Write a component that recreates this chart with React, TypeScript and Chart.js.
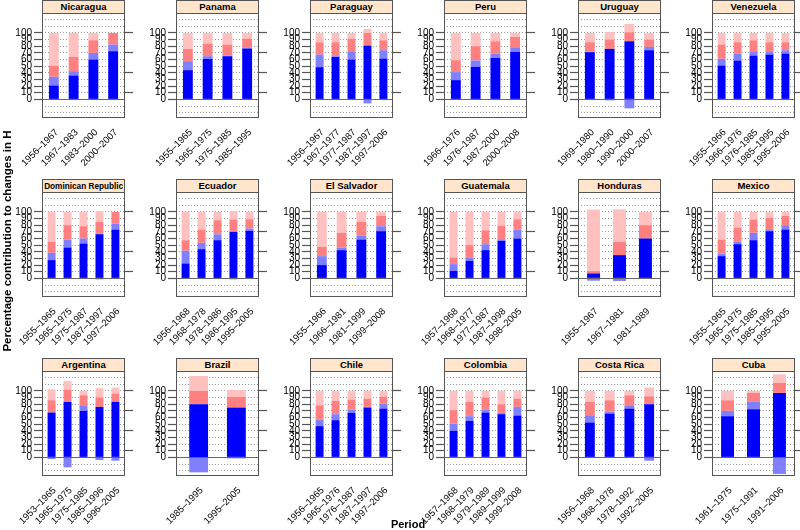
import React, { useEffect, useRef } from 'react';
import { Chart, registerables } from 'chart.js';

Chart.register(...registerables);

const FONT = "'Liberation Sans', Arial, Helvetica, sans-serif";

const countries = [
  'Nicaragua', 'Panama', 'Paraguay', 'Peru', 'Uruguay', 'Venezuela',
  'Dominican Republic', 'Ecuador', 'El Salvador', 'Guatemala', 'Honduras', 'Mexico',
  'Argentina', 'Brazil', 'Chile', 'Colombia', 'Costa Rica', 'Cuba',
];

const periods: string[][] = [
  ['1956–1967', '1967–1983', '1983–2000', '2000–2007'],
  ['1955–1965', '1965–1975', '1975–1985', '1985–1995'],
  ['1956–1967', '1967–1977', '1977–1987', '1987–1997', '1997–2006'],
  ['1966–1976', '1976–1987', '1987–2000', '2000–2008'],
  ['1969–1980', '1980–1990', '1990–2000', '2000–2007'],
  ['1955–1966', '1966–1976', '1976–1985', '1985–1995', '1995–2006'],
  ['1955–1965', '1965–1975', '1975–1987', '1987–1997', '1997–2006'],
  ['1956–1968', '1968–1978', '1978–1986', '1986–1995', '1995–2005'],
  ['1955–1966', '1966–1981', '1981–1999', '1999–2008'],
  ['1957–1968', '1968–1977', '1977–1987', '1987–1998', '1998–2005'],
  ['1955–1967', '1967–1981', '1981–1989'],
  ['1955–1965', '1965–1975', '1975–1985', '1985–1995', '1995–2005'],
  ['1953–1965', '1965–1975', '1975–1985', '1985–1996', '1996–2005'],
  ['1985–1995', '1995–2005'],
  ['1956–1965', '1965–1976', '1976–1987', '1987–1997', '1997–2006'],
  ['1957–1968', '1968–1979', '1979–1989', '1989–1999', '1999–2008'],
  ['1956–1968', '1968–1978', '1978–1992', '1992–2005'],
  ['1961–1975', '1975–1991', '1991–2006'],
];

// dark blue component
const blueShare: number[][] = [
  [21, 36, 60, 72.5],
  [44, 61, 65, 76.5],
  [48.5, 64, 60, 81, 61.5],
  [29, 49, 62.5, 71.5],
  [71, 76, 87.5, 74],
  [51, 58.5, 66, 67.5, 69],
  [27.5, 46.5, 52.5, 66.5, 73.5],
  [22.5, 44, 57.5, 70, 71.5],
  [20, 42.5, 58.5, 71],
  [11.5, 26.5, 42.5, 56.5, 60],
  [7.5, 35, 60],
  [33.5, 51.5, 57.5, 71, 73.5],
  [67.5, 83.5, 70, 76, 83.5],
  [80, 75],
  [47, 56, 67, 75, 73.5],
  [40, 55, 67.5, 65, 63],
  [52.5, 66, 73.5, 80],
  [62, 72.5, 97],
];

// light blue component
const lightBlueShare: number[][] = [
  [13, 6.5, 10, 10],
  [13.5, 4, 1, 1],
  [19, 1, 12.5, -6, 12.5],
  [12, 9.5, 6, 7],
  [0.5, -1.5, -13.5, 5],
  [10, 10, 6.5, 5, 5],
  [11, 12, 7.5, -1.5, 9],
  [19, 9.5, 9, -1.5, 3.5],
  [13.5, 4, 5.5, 7.5],
  [10, 5, 9, 2.5, 13.5],
  [-3.5, -4, 0],
  [4, 3.5, 11, 3, 6.5],
  [-2.5, -15, 8.5, -4, -5],
  [-22.5, -1.5],
  [10, 9, 5, 1, 7.5],
  [11, 7, 4.5, 2, 13],
  [11, 2.5, 5, -5],
  [8, 11, -25],
];

// red component
const redShare: number[][] = [
  [17, 21.5, 19, 17.5],
  [18.5, 19, 16.5, 14],
  [18.5, 21, 18.5, 19, 15],
  [18, 21.5, 19, 15.5],
  [14.5, 14, 13.5, 11],
  [21.5, 17.5, 16.5, 13.5, 12],
  [16.5, 21.5, 18.5, 18.5, 17.5],
  [16, 20, 21, 18.5, 14],
  [14, 22, 21, 15.5],
  [10, 18.5, 21, 20, 15.5],
  [3.5, 20, 20],
  [21, 21.5, 20, 17, 14],
  [18.5, 18.5, 15, 14, 12.5],
  [20, 16],
  [21.5, 20, 15, 12.5, 10],
  [20, 21.5, 18, 13, 12.5],
  [20, 17.5, 15, 12],
  [16, 13.5, 15],
];

// light pink component
const pinkShare: number[][] = [
  [49, 36, 11, 0],
  [24, 16, 17.5, 8.5],
  [14, 14, 9, 6, 11],
  [41, 20, 12.5, 6],
  [14, 11.5, 12.5, 10],
  [17.5, 14, 11, 14, 14],
  [45, 20, 21.5, 16.5, 0],
  [42.5, 26.5, 12.5, 13, 11],
  [52.5, 31.5, 15, 6],
  [68.5, 50, 27.5, 21, 11],
  [92.5, 49, 20],
  [41.5, 23.5, 11.5, 9, 6],
  [16.5, 13, 6.5, 14, 9],
  [22.5, 10.5],
  [21.5, 15, 13, 11.5, 9],
  [29, 16.5, 10, 20, 11.5],
  [16.5, 14, 6.5, 13],
  [14, 3, 13],
];

const yTickValues = [-20, -10, 0, 10, 20, 30, 40, 50, 60, 70, 80, 90, 100, 110, 120, 130];
const Y_MIN = -28;
const Y_MAX = 130;

const COLORS = ['#0000FF', '#8080FF', '#FF8080', '#FFC0C0'];

const COL_PITCH = 134;
const ROW_PITCH = 179;
const FIRST_LEFT = 42;
const FIRST_TOP = 13;
const PLOT_W = 83;
const PLOT_H = 105;
const PAD_L = 45;
const AXIS_W = 42;
const RIGHT_W = 9;
const CANVAS_H = 165;
const STRIP_H = 13;
const STRIP_FONT = 9.5;

let measureCtx: CanvasRenderingContext2D | null = null;
function stripScale(text: string): number {
  if (typeof document === 'undefined') return 1;
  if (!measureCtx) measureCtx = document.createElement('canvas').getContext('2d');
  if (!measureCtx) return 1;
  measureCtx.font = `bold ${STRIP_FONT}px ${FONT}`;
  const w = measureCtx.measureText(text).width;
  const avail = PLOT_W - 4;
  return w > avail ? avail / w : 1;
}

const panelPlugin = {
  id: 'panelBox',
  afterDatasetsDraw(chart: any) {
    const { ctx, chartArea: a, scales } = chart;
    const y0 = Math.round(scales.y.getPixelForValue(0)) + 0.5;
    ctx.save();
    ctx.setLineDash([]);
    ctx.strokeStyle = '#666666';
    ctx.lineWidth = 1.2;
    ctx.beginPath();
    ctx.moveTo(a.left, y0);
    ctx.lineTo(a.right, y0);
    ctx.stroke();
    ctx.strokeStyle = '#555555';
    ctx.lineWidth = 1;
    ctx.strokeRect(Math.round(a.left) + 0.5, Math.round(a.top) + 0.5, Math.round(a.width) - 1, Math.round(a.height) - 1);
    ctx.restore();
  },
};

const tickColorFn = (c: any) =>
  c.tick && c.tick.value >= 0 && c.tick.value <= 100 ? '#555555' : 'rgba(0,0,0,0)';

function Panel({ index }: { index: number }) {
  const ref = useRef<HTMLCanvasElement>(null);
  const col = index % 6;
  const row = Math.floor(index / 6);
  const left = FIRST_LEFT + COL_PITCH * col;
  const top = FIRST_TOP + ROW_PITCH * row;
  const canvasW = PAD_L + AXIS_W + PLOT_W + RIGHT_W;

  useEffect(() => {
    const cats = periods[index];
    const n = cats.length;
    const comps = [blueShare[index], lightBlueShare[index], redShare[index], pinkShare[index]];
    const names = ['blue', 'light blue', 'red', 'pink'];
    const datasets = comps.map((arr, k) => ({
      label: names[k],
      data: arr.map((v, i) => ({ x: i + 1, y: v })),
      backgroundColor: COLORS[k],
      borderWidth: 0,
      barPercentage: 0.5,
      categoryPercentage: 1,
    }));
    const buildY = (s: any) => {
      s.ticks = yTickValues.map((v) => ({ value: v }));
    };
    const chart = new Chart(ref.current as HTMLCanvasElement, {
      type: 'bar',
      data: { datasets } as any,
      options: {
        animation: false,
        responsive: false,
        maintainAspectRatio: false,
        events: [],
        layout: { padding: { left: PAD_L, right: 0, top: 0, bottom: 0 } },
        plugins: { legend: { display: false }, tooltip: { enabled: false } },
        scales: {
          x: {
            type: 'linear',
            stacked: true,
            min: 0.4,
            max: n + 0.6,
            offset: false,
            grid: { display: false },
            border: { display: false },
            afterBuildTicks: (s: any) => {
              s.ticks = cats.map((_, i) => ({ value: i + 1 }));
            },
            afterFit: (s: any) => {
              s.height = CANVAS_H - PLOT_H;
              s.paddingLeft = 0;
              s.paddingRight = 0;
            },
            ticks: {
              autoSkip: false,
              minRotation: 45,
              maxRotation: 45,
              padding: 1,
              labelOffset: 3,
              color: '#000000',
              font: { family: FONT, size: 9.5 },
              callback: (v: any) => cats[Math.round(Number(v)) - 1] ?? '',
            },
          },
          y: {
            type: 'linear',
            position: 'left',
            stacked: true,
            min: Y_MIN,
            max: Y_MAX,
            afterBuildTicks: buildY,
            afterFit: (s: any) => {
              s.width = AXIS_W;
              s.paddingTop = 0;
              s.paddingBottom = 0;
            },
            grid: {
              color: '#9a9a9a',
              lineWidth: 1,
              drawTicks: true,
              tickLength: 8,
              tickWidth: 1.2,
              tickColor: tickColorFn,
              tickBorderDash: [],
            },
            border: { display: false, dash: [1, 2] },
            ticks: {
              autoSkip: false,
              padding: 2,
              color: '#000000',
              font: { family: FONT, size: 10 },
              callback: (v: any) => (Number(v) >= 0 && Number(v) <= 100 ? String(v) : ''),
            },
          },
          y2: {
            type: 'linear',
            position: 'right',
            min: Y_MIN,
            max: Y_MAX,
            afterBuildTicks: buildY,
            afterFit: (s: any) => {
              s.width = RIGHT_W;
              s.paddingTop = 0;
              s.paddingBottom = 0;
            },
            grid: {
              drawOnChartArea: false,
              drawTicks: true,
              tickLength: 8,
              tickWidth: 1.2,
              tickColor: tickColorFn,
            },
            border: { display: false },
            ticks: { padding: 0, callback: () => '' },
          },
        },
      } as any,
      plugins: [panelPlugin],
    });
    return () => chart.destroy();
  }, [index]);

  const sx = stripScale(countries[index]);

  return (
    <>
      <canvas
        ref={ref}
        width={canvasW}
        height={CANVAS_H}
        style={{
          position: 'absolute',
          left: left - AXIS_W - PAD_L,
          top,
          width: canvasW,
          height: CANVAS_H,
        }}
      />
      <div
        style={{
          position: 'absolute',
          left,
          top: top - STRIP_H,
          width: PLOT_W,
          height: STRIP_H + 1,
          boxSizing: 'border-box',
          border: '1px solid #555555',
          background: '#FFE5CC',
          display: 'flex',
          alignItems: 'center',
          justifyContent: 'center',
          overflow: 'hidden',
          whiteSpace: 'nowrap',
          fontFamily: FONT,
          fontWeight: 'bold',
          fontSize: `${STRIP_FONT}px`,
          lineHeight: '12px',
          color: '#000',
        }}
      >
        <span style={{ display: 'inline-block', transform: `scaleX(${sx})`, transformOrigin: 'center' }}>
          {countries[index]}
        </span>
      </div>
    </>
  );
}

export default function App() {
  useEffect(() => {
    document.body.style.margin = '0';
  }, []);
  return (
    <div
      style={{
        position: 'relative',
        width: 800,
        height: 530,
        overflow: 'hidden',
        background: '#ffffff',
        fontFamily: FONT,
      }}
    >
      {countries.map((name, i) => (
        <Panel key={name} index={i} />
      ))}
      <div
        style={{
          position: 'absolute',
          left: 7 - 150,
          top: 241 - 7,
          width: 300,
          height: 14,
          lineHeight: '14px',
          textAlign: 'center',
          transform: 'rotate(-90deg)',
          fontWeight: 'bold',
          fontSize: '11.5px',
          color: '#000',
          whiteSpace: 'nowrap',
        }}
      >
        Percentage contribution to changes in H
      </div>
      <div
        style={{
          position: 'absolute',
          left: 358,
          top: 518,
          width: 100,
          height: 12,
          lineHeight: '12px',
          textAlign: 'center',
          fontWeight: 'bold',
          fontSize: '11px',
          color: '#000',
        }}
      >
        Period
      </div>
    </div>
  );
}
